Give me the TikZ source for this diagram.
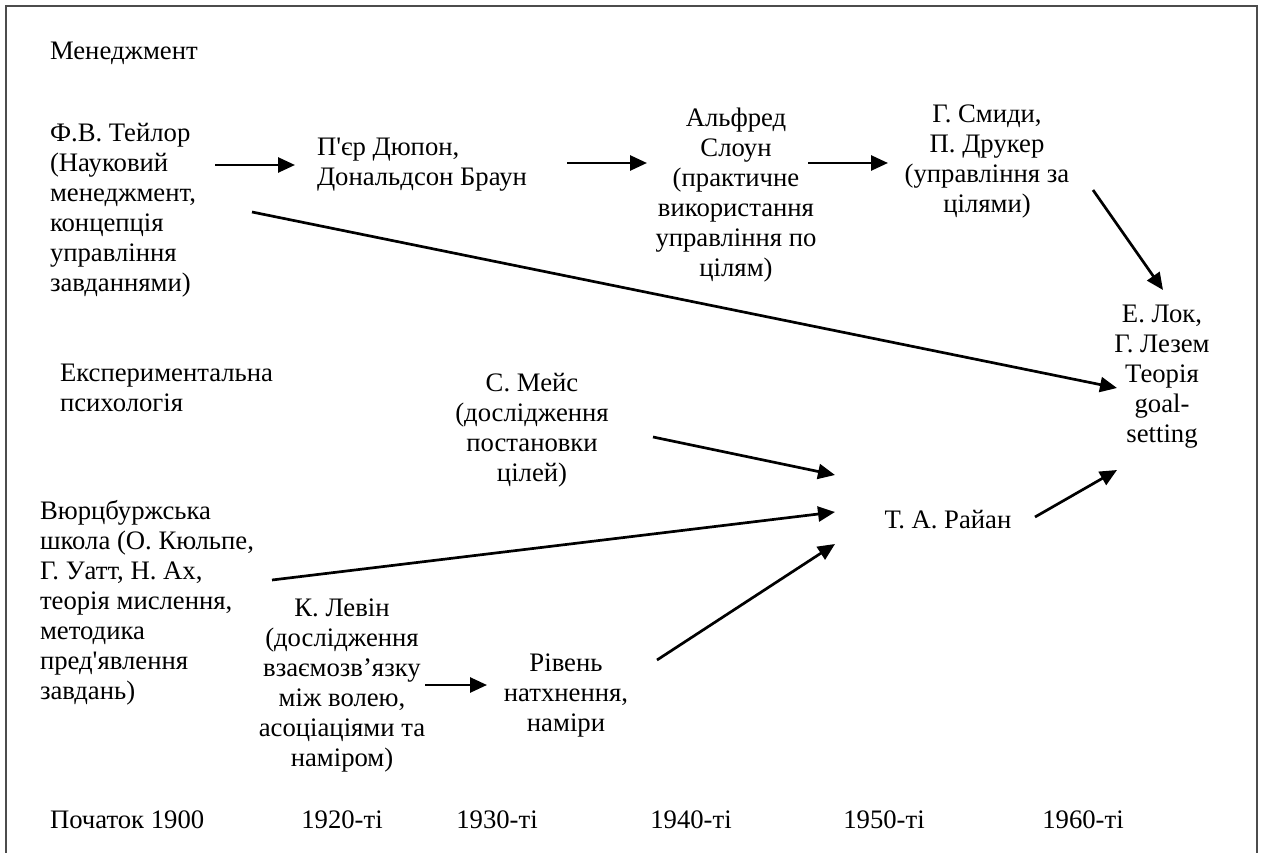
\documentclass[tikz,border=0pt]{standalone}
\usepackage{fontspec}
\newfontfamily\uafont{Liberation Serif}
\usetikzlibrary{arrows.meta,calc}
\begin{document}
\begin{tikzpicture}[x=1pt,y=-1pt,
  every node/.style={font=\uafont\fontsize{26.7}{30}\selectfont, inner sep=0pt, outer sep=0pt},
  lbl/.style={anchor=west, align=left},
  ctr/.style={anchor=center, align=center},
  arr/.style={line width=2.7pt, -{Triangle[length=17pt,width=15pt]}},
  frame/.style={draw=black!70, line width=2pt}]
\useasboundingbox (0,0) rectangle (1263,853);
\draw[frame] (6,853) -- (6,6) -- (1257,6) -- (1257,853);

% management branch
\node[lbl] (mgmt) at (50,53) {Менеджмент};
\node[lbl] (taylor) at (50,210) {Ф.В. Тейлор\\(Науковий\\менеджмент,\\концепція\\управління\\завданнями)};
\node[lbl] (dupont) at (317,165) {П'єр Дюпон,\\Дональдсон Браун};
\node[ctr] (sloan) at (736,195) {Альфред\\Слоун\\(практичне\\використання\\управління по\\цілям)};
\node[ctr] (smidi) at (987,162) {Г. Смиди,\\П. Друкер\\(управління за\\цілями)};
\node[ctr] (lok) at (1162,377) {Е. Лок,\\Г. Лезем\\Теорія\\goal-\\setting};

% psychology branch
\node[lbl] (psych) at (60,388) {Експериментальна\\психологія};
\node[ctr] (meis) at (532,430) {С. Мейс\\(дослідження\\постановки\\цілей)};
\node[lbl] (wurz) at (40,603) {Вюрцбуржська\\школа (О. Кюльпе,\\Г. Уатт, Н. Ах,\\теорія мислення,\\методика\\пред'явлення\\завдань)};
\node[ctr] (lewin) at (342,685) {К. Левін\\(дослідження\\взаємозв’язку\\між волею,\\асоціаціями та\\наміром)};
\node[ctr] (riven) at (566,695) {Рівень\\натхнення,\\наміри};
\node[ctr] (ryan) at (948,520) {Т. А. Райан};

% time axis
\node[lbl] (y1900) at (50,820) {Початок 1900};
\node[ctr] (y1920) at (342,820) {1920-ті};
\node[ctr] (y1930) at (497,820) {1930-ті};
\node[ctr] (y1940) at (691,820) {1940-ті};
\node[ctr] (y1950) at (884,820) {1950-ті};
\node[ctr] (y1960) at (1083,820) {1960-ті};

% connectors
\draw[arr] ($(taylor.west)+(165,-45)$) -- ($(dupont.west)+(-22,0)$);
\draw[arr] ($(dupont.west)+(250,-2)$) -- ($(sloan.center)+(-89,-32)$);
\draw[arr] ($(sloan.center)+(72,-32)$) -- ($(smidi.center)+(-99,1)$);
\draw[arr] ($(taylor.west)+(202,2)$) -- ($(lok.center)+(-45,11)$);
\draw[arr] ($(smidi.center)+(106,28)$) -- ($(lok.center)+(1,-87)$);
\draw[arr] ($(meis.center)+(121,7)$) -- ($(ryan.center)+(-113,-45)$);
\draw[arr] ($(wurz.west)+(232,-23)$) -- ($(ryan.center)+(-113,-8)$);
\draw[arr] ($(riven.center)+(91,-35)$) -- ($(ryan.center)+(-113,24)$);
\draw[arr] ($(lewin.center)+(83,0)$) -- ($(riven.center)+(-79,-10)$);
\draw[arr] ($(ryan.center)+(87,-3)$) -- ($(lok.center)+(-45,93)$);
\end{tikzpicture}
\end{document}
